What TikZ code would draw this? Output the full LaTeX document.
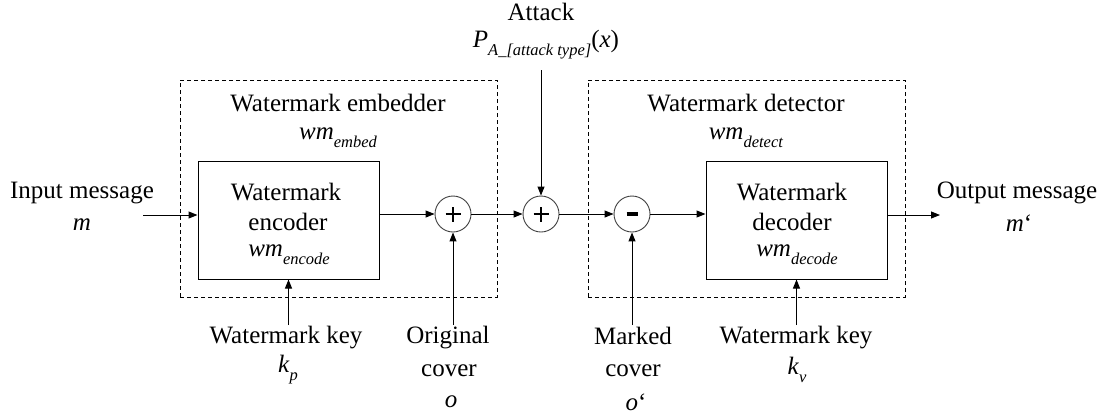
\documentclass[tikz,border=0pt]{standalone}
\usepackage{fontspec}
\setmainfont{Liberation Serif}
\usetikzlibrary{arrows.meta}
\newcommand\subt[1]{\raisebox{-0.32em}{\fontsize{16.5}{16.5}\selectfont\textit{#1}}}
\begin{document}
\begin{tikzpicture}[x=1pt,y=-1pt,
  lbl/.style={inner sep=0pt,font=\fontsize{25}{30}\selectfont},
  blockbox/.style={draw,line width=1pt,minimum width=181pt,minimum height=118pt,inner sep=0pt},
  groupbox/.style={draw,line width=0.9pt,dash pattern=on 4pt off 3pt,minimum width=317pt,minimum height=217pt,inner sep=0pt},
  sumnode/.style={draw=black!75,line width=0.9pt,circle,minimum size=36pt,inner sep=0pt},
  conn/.style={line width=1pt,-{Triangle[length=9pt,width=7pt]}}]
\useasboundingbox (0,0) rectangle (1110,416);

% group boxes
\node[groupbox] (emb) at (338.5,188.5) {};
\node[groupbox] (det) at (746.5,188.5) {};
\node[lbl] (embt) at (338,103) {Watermark embedder};
\node[lbl] (embw) at (338,138) {\textit{wm}\subt{embed}};
\node[lbl] (dett) at (746,103) {Watermark detector};
\node[lbl] (detw) at (746,138) {\textit{wm}\subt{detect}};

% blocks
\node[blockbox] (enc) at (288.5,220) {};
\node[lbl] (enc1) at (286,192) {Watermark};
\node[lbl] (enc2) at (288,222) {encoder};
\node[lbl] (enc3) at (289,255) {\textit{wm}\subt{encode}};
\node[blockbox] (dec) at (796.5,220) {};
\node[lbl] (dec1) at (792,192) {Watermark};
\node[lbl] (dec2) at (792,222) {decoder};
\node[lbl] (dec3) at (797,255) {\textit{wm}\subt{decode}};

% sum nodes
\node[sumnode] (s1) at (453,214) {};
\node[sumnode] (s2) at (541,214) {};
\node[sumnode] (s3) at (632,214) {};
\draw[line width=1.5pt] ([xshift=-7.5pt]s1.center) -- ([xshift=7.5pt]s1.center) ([yshift=-7.5pt]s1.center) -- ([yshift=7.5pt]s1.center);
\draw[line width=1.5pt] ([xshift=-7.5pt]s2.center) -- ([xshift=7.5pt]s2.center) ([yshift=-7.5pt]s2.center) -- ([yshift=7.5pt]s2.center);
\draw[line width=3.8pt] ([xshift=-5.5pt]s3.center) -- ([xshift=5.5pt]s3.center);

% input / output
\node[lbl] (in1) at (82,193) {Input message};
\node[lbl] (in2) at (82,225) {\textit{m}};
\coordinate (inS) at (143,215);
\node[lbl] (out1) at (1017,193) {Output message};
\node[lbl] (out2) at (1019,223) {\textit{m}‘};
\coordinate (outE) at (940,215);

% attack
\node[lbl] (att1) at (541,12) {Attack};
\node[lbl] (att2) at (546,45) {\textit{P}\subt{A\_[attack type]}(\textit{x})};
\coordinate (attS) at (541,70);

% bottom labels
\node[lbl] (k1a) at (286,338) {Watermark key};
\node[lbl] (k1b) at (288,370) {\textit{k}\subt{p}};
\node[lbl] (oc1) at (448,338) {Original};
\node[lbl] (oc2) at (449,371) {cover};
\node[lbl] (oc3) at (451,402) {\textit{o}};
\node[lbl] (mc1) at (633,336) {Marked};
\node[lbl] (mc2) at (633,371) {cover};
\node[lbl] (mc3) at (636,402) {\textit{o}‘};
\node[lbl] (k2a) at (796,338) {Watermark key};
\node[lbl] (k2b) at (797,370) {\textit{k}\subt{v}};
\coordinate (k1S) at (288.5,325);
\coordinate (ocS) at (453,325);
\coordinate (mcS) at (632,325);
\coordinate (k2S) at (796.5,325);

% connectors
\draw[conn] (inS) -- (inS -| enc.west);
\draw[conn] (enc.east |- s1) -- (s1.west);
\draw[conn] (s1.east) -- (s2.west);
\draw[conn] (s2.east) -- (s3.west);
\draw[conn] (s3.east) -- (s3 -| dec.west);
\draw[conn] (dec.east |- outE) -- (outE);
\draw[conn] (attS) -- (s2.north);
\draw[conn] (k1S) -- (enc.south);
\draw[conn] (ocS) -- (s1.south);
\draw[conn] (mcS) -- (s3.south);
\draw[conn] (k2S) -- (dec.south);
\end{tikzpicture}
\end{document}
